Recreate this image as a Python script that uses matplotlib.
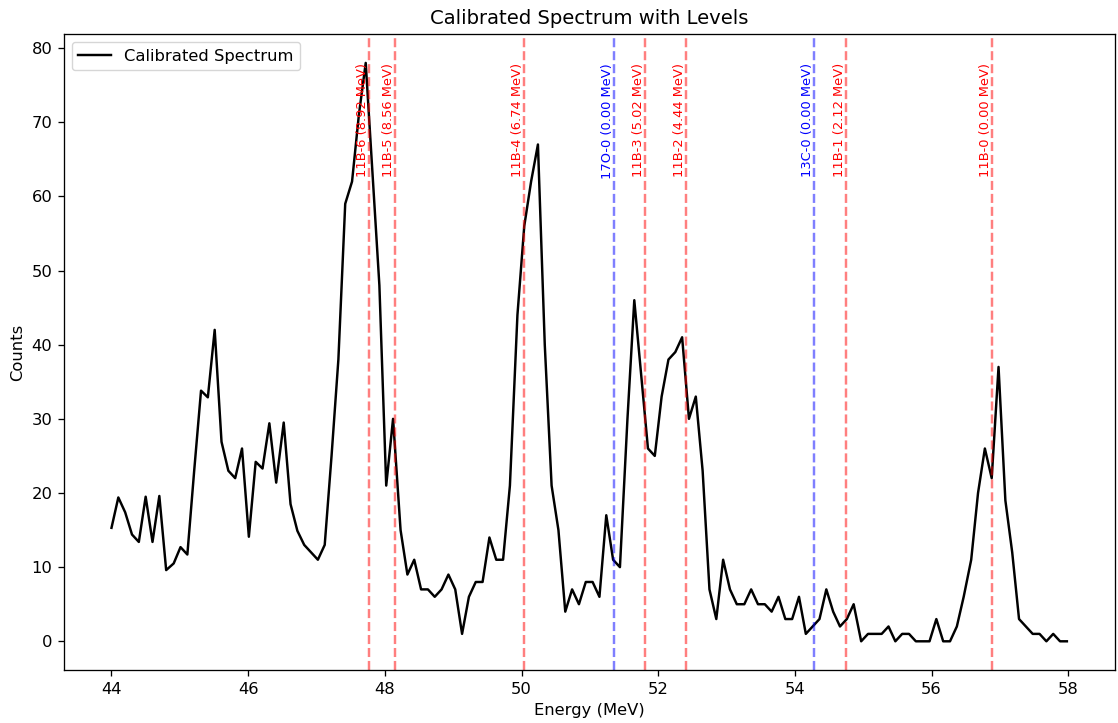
import matplotlib
matplotlib.use("Agg")
import matplotlib.pyplot as plt

# calibrated energy of each bin (MeV)
energy = [
    44.00, 44.10, 44.20, 44.30, 44.40, 44.50, 44.60, 44.70, 44.80, 44.91,
    45.01, 45.11, 45.21, 45.31, 45.41, 45.51, 45.61, 45.71, 45.81, 45.91,
    46.01, 46.11, 46.21, 46.31, 46.41, 46.52, 46.62, 46.72, 46.82, 46.92,
    47.02, 47.12, 47.22, 47.32, 47.42, 47.52, 47.62, 47.72, 47.82, 47.92,
    48.02, 48.12, 48.23, 48.33, 48.43, 48.53, 48.63, 48.73, 48.83, 48.93,
    49.03, 49.13, 49.23, 49.33, 49.43, 49.53, 49.63, 49.73, 49.83, 49.94,
    50.04, 50.14, 50.24, 50.34, 50.44, 50.54, 50.64, 50.74, 50.84, 50.94,
    51.04, 51.14, 51.24, 51.34, 51.44, 51.55, 51.65, 51.75, 51.85, 51.95,
    52.05, 52.15, 52.25, 52.35, 52.45, 52.55, 52.65, 52.75, 52.85, 52.95,
    53.05, 53.15, 53.26, 53.36, 53.46, 53.56, 53.66, 53.76, 53.86, 53.96,
    54.06, 54.16, 54.26, 54.36, 54.46, 54.56, 54.66, 54.76, 54.86, 54.97,
    55.07, 55.17, 55.27, 55.37, 55.47, 55.57, 55.67, 55.77, 55.87, 55.97,
    56.07, 56.17, 56.27, 56.37, 56.47, 56.58, 56.68, 56.78, 56.88, 56.98,
    57.08, 57.18, 57.28, 57.38, 57.48, 57.58, 57.68, 57.78, 57.88, 57.98,
]

counts = [
    15.3, 19.4, 17.4, 14.4, 13.4, 19.5, 13.4, 19.6, 9.6, 10.5,
    12.7, 11.7, 23.0, 33.8, 32.9, 42.0, 26.9, 23.0, 22.0, 26.0,
    14.1, 24.2, 23.3, 29.4, 21.4, 29.5, 18.5, 14.9, 13.0, 12.0,
    11, 13, 25, 38, 59, 62, 71, 78, 63, 48,
    21, 30, 15, 9, 11, 7, 7, 6, 7, 9,
    7, 1, 6, 8, 8, 14, 11, 11, 21, 44,
    56, 62, 67, 40, 21, 15, 4, 7, 5, 8,
    8, 6, 17, 11, 10, 30, 46, 36, 26, 25,
    33, 38, 39, 41, 30, 33, 23, 7, 3, 11,
    7, 5, 5, 7, 5, 5, 4, 6, 3, 3,
    6, 1, 2, 3, 7, 4, 2, 3, 5, 0,
    1, 1, 1, 2, 0, 1, 1, 0, 0, 0,
    3, 0, 0, 2, 6, 11, 20, 26, 22, 37,
    19, 12, 3, 2, 1, 1, 0, 1, 0, 0,
]

# level positions on the energy axis
level_names = ["11B-6", "11B-5", "11B-4", "17O-0", "11B-3", "11B-2", "13C-0", "11B-1", "11B-0"]
level_ex = [8.92, 8.56, 6.74, 0.00, 5.02, 4.44, 0.00, 2.12, 0.00]
level_pos = [47.77, 48.15, 50.04, 51.36, 51.81, 52.41, 54.28, 54.75, 56.88]

# original looks like a slightly upscaled default figure
s = 1.175
plt.rcParams.update({
    'font.size': 10 * s,
    'axes.linewidth': 0.8 * s,
    'axes.labelpad': 4.0 * s,
    'axes.titlepad': 6.0 * s,
    'xtick.major.size': 3.5 * s,
    'ytick.major.size': 3.5 * s,
    'xtick.major.width': 0.8 * s,
    'ytick.major.width': 0.8 * s,
    'xtick.major.pad': 3.5 * s,
    'ytick.major.pad': 3.5 * s,
})

fig = plt.figure(figsize=(11.18, 7.23), dpi=100)
ax = fig.add_subplot(111)
fig.subplots_adjust(left=0.057, right=0.997, top=0.953, bottom=0.073)

ax.plot(energy, counts, color='black', lw=1.5 * s, label='Calibrated Spectrum')

ytop = max(counts)
for name, ex, pos in zip(level_names, level_ex, level_pos):
    col = 'blue' if name.startswith(('17O', '13C')) else 'red'
    ax.axvline(pos, color=col, linestyle='--', alpha=0.5, lw=1.5 * s)
    ax.text(pos, ytop, f"{name} ({ex:.2f} MeV)", rotation=90, color=col,
            ha='right', va='top', fontsize=9.4)

ax.set_xlabel('Energy (MeV)')
ax.set_ylabel('Counts')
ax.set_title('Calibrated Spectrum with Levels')
ax.legend(loc='upper left')

fig.savefig('out.png', dpi=100)
